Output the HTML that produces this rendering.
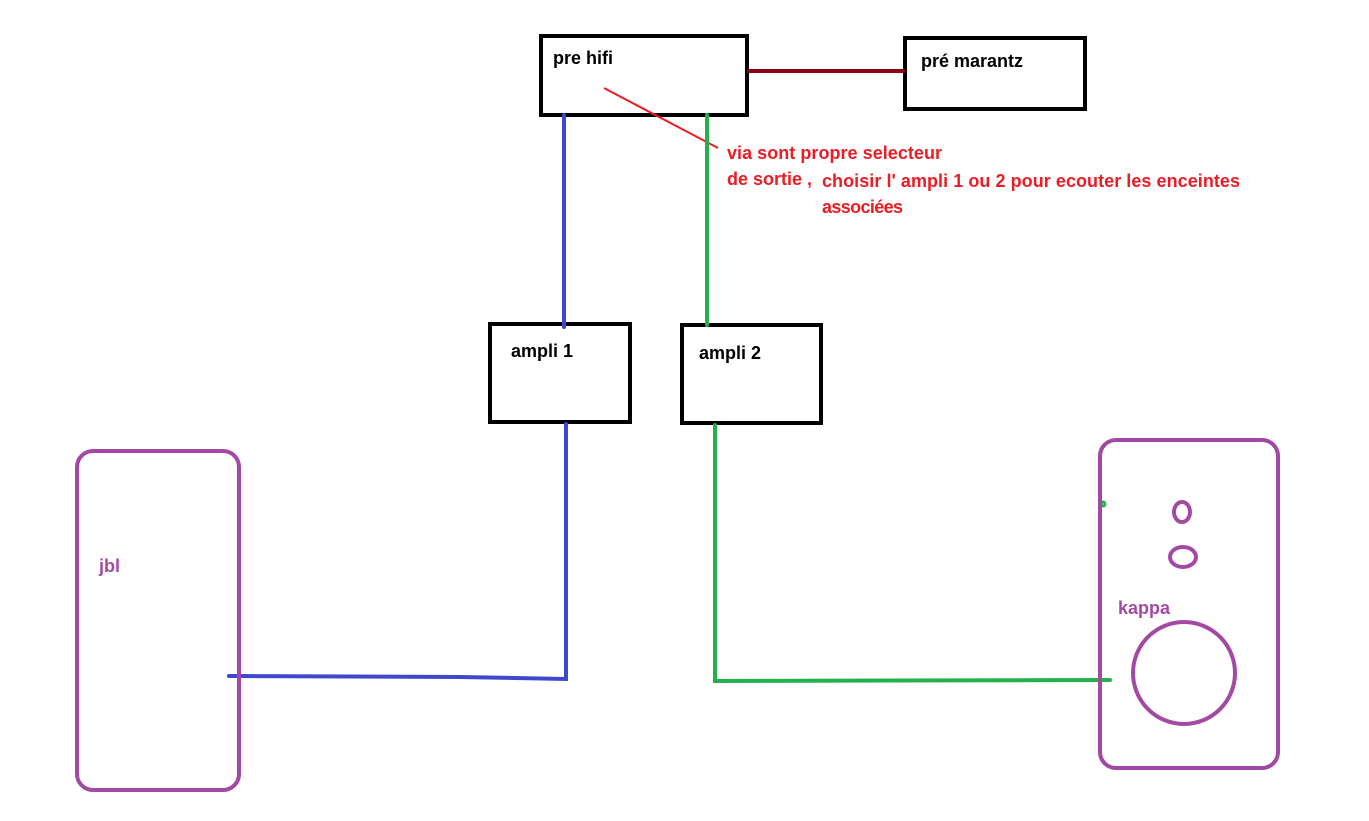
<!DOCTYPE html>
<html><head><meta charset="utf-8"><style>
html,body{margin:0;padding:0;background:#fff}
svg text{font-family:"Liberation Sans",sans-serif;font-weight:bold;font-size:18px}
</style></head><body>
<svg width="1369" height="816" viewBox="0 0 1369 816" xmlns="http://www.w3.org/2000/svg">
<rect x="0" y="0" width="1369" height="816" fill="#fff"/>
<g fill="none" stroke="#000" stroke-width="4">
<rect x="541" y="36" width="206" height="79"/>
<rect x="905" y="38" width="180" height="71"/>
<rect x="490" y="324" width="140" height="98"/>
<rect x="682" y="325" width="139" height="98"/>
</g>
<line x1="747" y1="71" x2="905" y2="71" stroke="#880015" stroke-width="4"/>
<line x1="604" y1="88" x2="718" y2="148" stroke="#ed1c24" stroke-width="2"/>
<g fill="none" stroke="#3f48cc" stroke-width="4" stroke-linecap="round">
<line x1="564" y1="115" x2="564" y2="327"/>
<polyline points="566,424 566,679 460,677 229,676"/>
</g>
<g fill="none" stroke="#22b14c" stroke-width="4" stroke-linecap="round">
<line x1="707" y1="115" x2="707" y2="325"/>
<polyline points="715,425 715,681 1110,680"/>
<circle cx="1103" cy="504" r="1.5"/>
</g>
<g fill="none" stroke="#a349a4" stroke-width="4">
<rect x="77" y="451" width="162" height="339" rx="16"/>
<rect x="1100" y="440" width="178" height="328" rx="16"/>
<ellipse cx="1182" cy="512" rx="8" ry="10"/>
<ellipse cx="1183" cy="557" rx="13" ry="10"/>
<circle cx="1184" cy="673" r="51"/>
</g>
<text x="553" y="64">pre hifi</text>
<text x="921" y="67">pré marantz</text>
<text x="511" y="357">ampli 1</text>
<text x="699" y="359">ampli 2</text>
<g fill="#ed1c24">
<text x="727" y="159" textLength="215">via sont propre selecteur</text>
<text x="727" y="185" textLength="85">de sortie ,</text>
<text x="822" y="187" textLength="418">choisir l' ampli 1 ou 2 pour ecouter les enceintes</text>
<text x="822" y="213" textLength="81">associées</text>
</g>
<g fill="#a349a4">
<text x="99" y="572">jbl</text>
<text x="1118" y="614">kappa</text>
</g>
</svg>
</body></html>
